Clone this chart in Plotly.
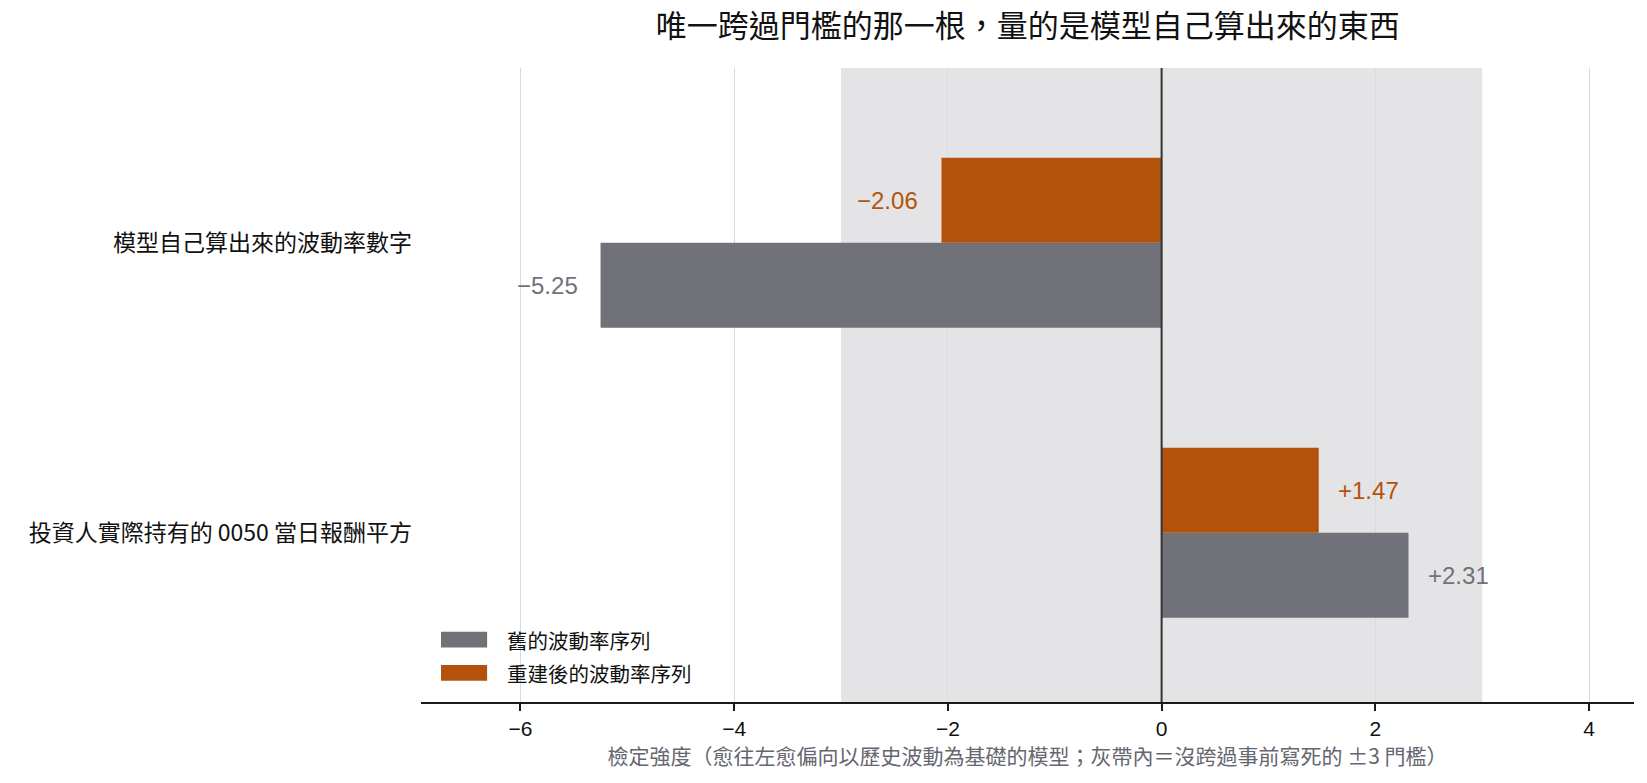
import plotly.graph_objects as go

categories = ["投資人實際持有的 0050 當日報酬平方", "模型自己算出來的波動率數字"]
old_values = [2.31, -5.25]
new_values = [1.47, -2.06]
series_names = ["舊的波動率序列", "重建後的波動率序列"]
tick_vals = [-6, -4, -2, 0, 2, 4]
tick_text = ["−6", "−4", "−2", "0", "2", "4"]
threshold = 3

GRAY = "#71717A"
ORANGE = "#B3530B"
FONT = "Helvetica Neue, Liberation Sans, Noto Sans CJK TC, sans-serif"
CJK = "Noto Sans CJK TC, sans-serif"

fig = go.Figure()
fig.add_trace(go.Bar(y=categories, x=old_values, orientation="h", name=series_names[0],
                     marker=dict(color=GRAY, line=dict(width=0)), showlegend=False))
fig.add_trace(go.Bar(y=categories, x=new_values, orientation="h", name=series_names[1],
                     marker=dict(color=ORANGE, line=dict(width=0)), showlegend=False))

# gray band (threshold)
fig.add_shape(type="rect", xref="x", yref="paper", x0=-threshold, x1=threshold, y0=0, y1=1,
              fillcolor="#E4E4E6", line=dict(width=0), layer="below")
# zero line
fig.add_shape(type="line", xref="x", yref="paper", x0=0, x1=0, y0=0, y1=1,
              line=dict(color="#333333", width=2))

def fmt(v):
    return ("+" if v > 0 else "−") + f"{abs(v):.2f}"

# value labels
offset = 0.1465
for vals, color, off in [(old_values, GRAY, -offset), (new_values, ORANGE, offset)]:
    for i, v in enumerate(vals):
        fig.add_annotation(x=v, y=i + off, xref="x", yref="y", text=fmt(v), showarrow=False,
                           xanchor="left" if v > 0 else "right",
                           xshift=17 if v > 0 else -21,
                           font=dict(size=24, color=color, family=FONT))

# custom legend
for k, (name, color) in enumerate(zip(series_names, [GRAY, ORANGE])):
    yc = 0.0985 - k * 0.0525
    fig.add_shape(type="rect", xref="paper", yref="paper", x0=0.0165, x1=0.0545,
                  y0=yc - 0.0125, y1=yc + 0.0125, fillcolor=color, line=dict(width=0))
    fig.add_annotation(xref="paper", yref="paper", x=0.069, y=yc, text=name, showarrow=False,
                       xanchor="left", yanchor="middle",
                       font=dict(size=20.5, color="#111111", family=CJK))

fig.update_layout(
    width=1647, height=783,
    margin=dict(l=421, r=13, t=68, b=81),
    paper_bgcolor="white", plot_bgcolor="white",
    barmode="group", bargap=0.414, bargroupgap=0,
    title=dict(text="唯一跨過門檻的那一根，量的是模型自己算出來的東西", x=0.624, xanchor="center",
               y=0.967, yanchor="middle", font=dict(size=31, color="#111111", family=CJK)),
    font=dict(family=CJK, color="#111111"),
    xaxis=dict(range=[-6.93, 4.42], tickvals=tick_vals, ticktext=tick_text,
               showgrid=True, gridcolor="#DADADA", gridwidth=1, zeroline=False,
               showline=True, linecolor="#1a1a1a", linewidth=2,
               ticks="outside", ticklen=7, tickwidth=2, tickcolor="#1a1a1a",
               tickfont=dict(size=21, color="#111111", family=FONT),
               title=dict(text="檢定強度（愈往左愈偏向以歷史波動為基礎的模型；灰帶內＝沒跨過事前寫死的 ±3 門檻）",
                          font=dict(size=21, color="#666670", family=CJK), standoff=3)),
    yaxis=dict(categoryorder="array", categoryarray=categories, range=[-0.583, 1.602],
               showgrid=False, zeroline=False, showline=False, ticks="",
               ticklabelstandoff=8,
               tickfont=dict(size=23, color="#111111", family=CJK)),
    showlegend=False,
)

fig.write_html("out.html")
